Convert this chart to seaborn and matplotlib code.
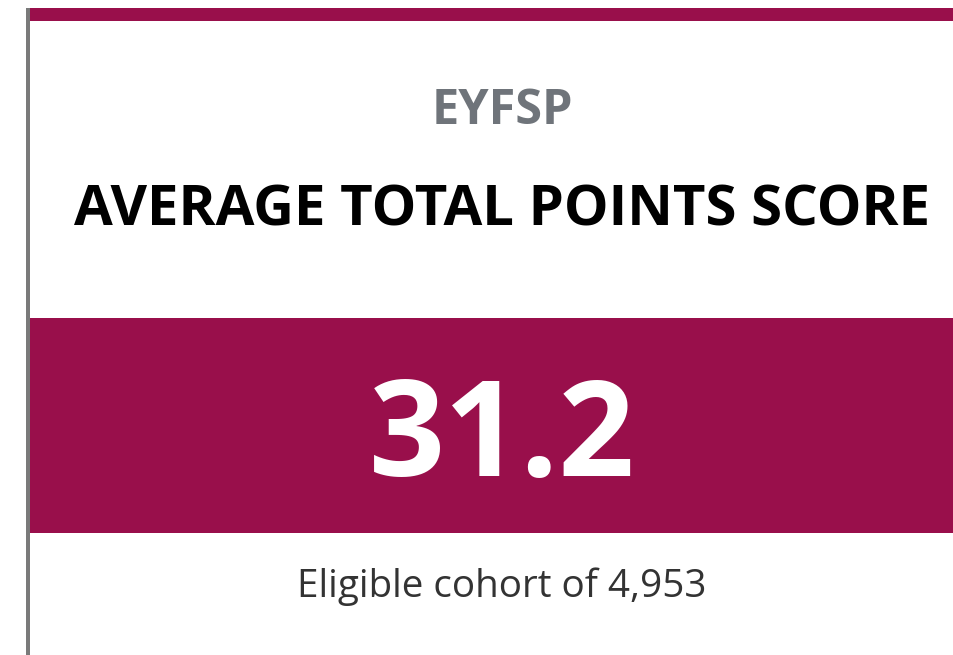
import matplotlib.pyplot as plt
import matplotlib as mpl
import seaborn as sns

# KPI card data
category = "EYFSP"
measure = "AVERAGE TOTAL POINTS SCORE"
values = [31.2]
cohort = [4953]

sns.set_style("white")
plt.rcParams['font.family'] = ['Open Sans', 'DejaVu Sans']

card_color = "#990F4B"
W, H = 954, 655

fig = plt.figure(figsize=(W / 100, H / 100), dpi=100)
ax = fig.add_axes([0, 0, 1, 1])
ax.set_xlim(0, W)
ax.set_ylim(H, 0)
ax.axis("off")

# card frame: top stripe + left border
ax.add_patch(mpl.patches.Rectangle((28, 8), W - 28, 13, color=card_color, lw=0))
ax.add_patch(mpl.patches.Rectangle((26.5, 8), 3.5, H - 8, color="#7a7a7a", lw=0))

# value band
ax.add_patch(mpl.patches.Rectangle((30, 318), W - 30, 215, color=card_color, lw=0))

cx = 502
ax.text(cx, 111, category, ha="center", va="center", fontsize=35,
        fontweight="bold", color="#6f747a")
ax.text(cx, 211, measure, ha="center", va="center", fontsize=40.5,
        fontweight="bold", color="black")
ax.text(cx, 442, f"{values[0]:.1f}", ha="center", va="center", fontsize=96,
        fontweight="bold", color="white")
ax.text(cx, 587, f"Eligible cohort of {cohort[0]:,}", ha="center", va="center",
        fontsize=27.8, color="#333333")

fig.savefig("out.png", dpi=100)
